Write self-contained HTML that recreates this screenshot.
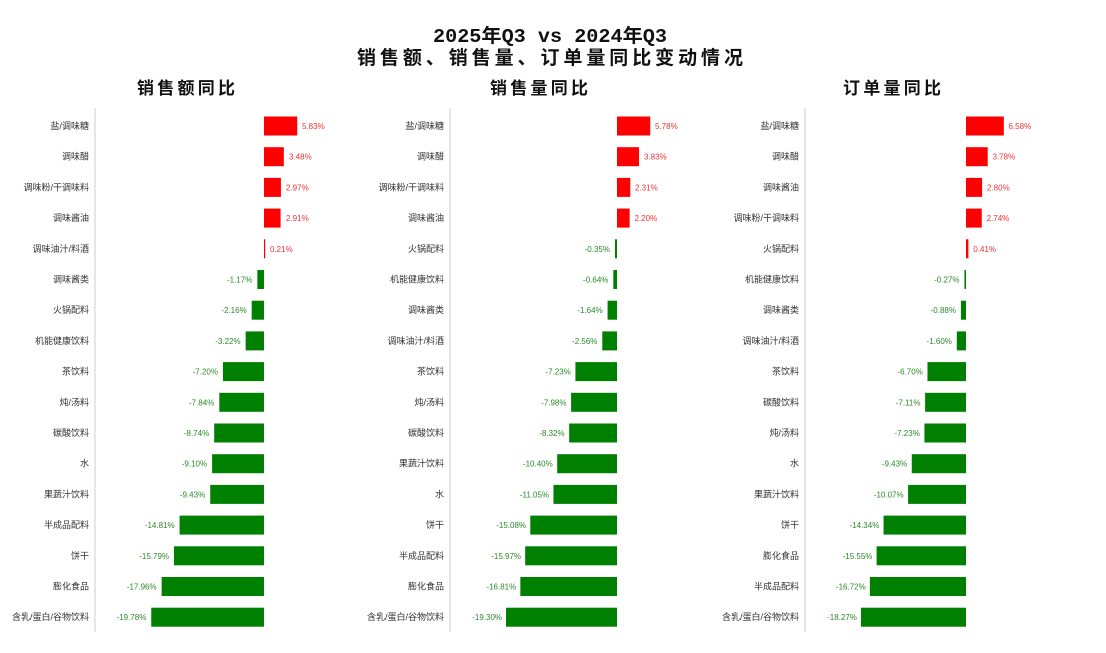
<!DOCTYPE html>
<html><head><meta charset="utf-8"><style>
body{margin:0;background:#fff;}
svg{display:block;font-family:"Liberation Sans","Noto Sans CJK SC",sans-serif;}
.t{font-family:"Liberation Mono","Noto Sans CJK SC",monospace;font-weight:bold;fill:#111;}
.l{font-size:9px;fill:#333;text-anchor:end;}
.p{font-size:8px;fill:#e33;}
.n{font-size:8px;fill:#2a8a2a;text-anchor:end;}
.r{fill:#ff0000;}
.g{fill:#008000;}
</style></head><body>
<svg width="1106" height="653" viewBox="0 0 1106 653">
<text class="t" x="433" y="42" font-size="19" textLength="234" lengthAdjust="spacingAndGlyphs">2025年Q3 vs 2024年Q3</text>
<text class="t" x="357" y="64" font-size="19" textLength="386" lengthAdjust="spacing">销售额、销售量、订单量同比变动情况</text>
<text class="t" x="137" y="94" font-size="17" textLength="98" lengthAdjust="spacing">销售额同比</text>
<text class="t" x="490" y="94" font-size="17" textLength="98" lengthAdjust="spacing">销售量同比</text>
<text class="t" x="843" y="94" font-size="17" textLength="98" lengthAdjust="spacing">订单量同比</text>
<line x1="95" y1="108" x2="95" y2="632" stroke="#ccc"/>
<line x1="450" y1="108" x2="450" y2="632" stroke="#ccc"/>
<line x1="805" y1="108" x2="805" y2="632" stroke="#ccc"/>

<g class="l">
<text x="89" y="129">盐/调味糖</text><text x="89" y="159.7">调味醋</text><text x="89" y="190.4">调味粉/干调味料</text><text x="89" y="221.1">调味酱油</text><text x="89" y="251.8">调味油汁/料酒</text><text x="89" y="282.5">调味酱类</text><text x="89" y="313.2">火锅配料</text><text x="89" y="343.9">机能健康饮料</text><text x="89" y="374.6">茶饮料</text><text x="89" y="405.3">炖/汤料</text><text x="89" y="436">碳酸饮料</text><text x="89" y="466.7">水</text><text x="89" y="497.4">果蔬汁饮料</text><text x="89" y="528.1">半成品配料</text><text x="89" y="558.8">饼干</text><text x="89" y="589.5">膨化食品</text><text x="89" y="620.2">含乳/蛋白/谷物饮料</text>
</g>
<g transform="translate(264,0) scale(5.7,1)">
<rect class="r" x="0" y="116.5" width="5.83" height="19"/><rect class="r" x="0" y="147.2" width="3.48" height="19"/><rect class="r" x="0" y="177.9" width="2.97" height="19"/><rect class="r" x="0" y="208.6" width="2.91" height="19"/><rect class="r" x="0" y="239.3" width="0.21" height="19"/>
<rect class="g" x="-1.17" y="270" width="1.17" height="19"/><rect class="g" x="-2.16" y="300.7" width="2.16" height="19"/><rect class="g" x="-3.22" y="331.4" width="3.22" height="19"/><rect class="g" x="-7.20" y="362.1" width="7.20" height="19"/><rect class="g" x="-7.84" y="392.8" width="7.84" height="19"/><rect class="g" x="-8.74" y="423.5" width="8.74" height="19"/><rect class="g" x="-9.10" y="454.2" width="9.10" height="19"/><rect class="g" x="-9.43" y="484.9" width="9.43" height="19"/><rect class="g" x="-14.81" y="515.6" width="14.81" height="19"/><rect class="g" x="-15.79" y="546.3" width="15.79" height="19"/><rect class="g" x="-17.96" y="577" width="17.96" height="19"/><rect class="g" x="-19.78" y="607.7" width="19.78" height="19"/>
</g>
<g transform="translate(264,0)">
<text class="p" x="38" y="129">5.83%</text><text class="p" x="25" y="159.7">3.48%</text><text class="p" x="22" y="190.4">2.97%</text><text class="p" x="22" y="221.1">2.91%</text><text class="p" x="6" y="251.8">0.21%</text>
<text class="n" x="-11.7" y="282.5">-1.17%</text><text class="n" x="-17.3" y="313.2">-2.16%</text><text class="n" x="-23.4" y="343.9">-3.22%</text><text class="n" x="-46" y="374.6">-7.20%</text><text class="n" x="-49.7" y="405.3">-7.84%</text><text class="n" x="-54.8" y="436">-8.74%</text><text class="n" x="-56.9" y="466.7">-9.10%</text><text class="n" x="-58.8" y="497.4">-9.43%</text><text class="n" x="-89.4" y="528.1">-14.81%</text><text class="n" x="-95" y="558.8">-15.79%</text><text class="n" x="-107.4" y="589.5">-17.96%</text><text class="n" x="-117.7" y="620.2">-19.78%</text>
</g>

<g class="l">
<text x="444" y="129">盐/调味糖</text><text x="444" y="159.7">调味醋</text><text x="444" y="190.4">调味粉/干调味料</text><text x="444" y="221.1">调味酱油</text><text x="444" y="251.8">火锅配料</text><text x="444" y="282.5">机能健康饮料</text><text x="444" y="313.2">调味酱类</text><text x="444" y="343.9">调味油汁/料酒</text><text x="444" y="374.6">茶饮料</text><text x="444" y="405.3">炖/汤料</text><text x="444" y="436">碳酸饮料</text><text x="444" y="466.7">果蔬汁饮料</text><text x="444" y="497.4">水</text><text x="444" y="528.1">饼干</text><text x="444" y="558.8">半成品配料</text><text x="444" y="589.5">膨化食品</text><text x="444" y="620.2">含乳/蛋白/谷物饮料</text>
</g>
<g transform="translate(617,0) scale(5.75,1)">
<rect class="r" x="0" y="116.5" width="5.78" height="19"/><rect class="r" x="0" y="147.2" width="3.83" height="19"/><rect class="r" x="0" y="177.9" width="2.31" height="19"/><rect class="r" x="0" y="208.6" width="2.20" height="19"/>
<rect class="g" x="-0.35" y="239.3" width="0.35" height="19"/><rect class="g" x="-0.64" y="270" width="0.64" height="19"/><rect class="g" x="-1.64" y="300.7" width="1.64" height="19"/><rect class="g" x="-2.56" y="331.4" width="2.56" height="19"/><rect class="g" x="-7.23" y="362.1" width="7.23" height="19"/><rect class="g" x="-7.98" y="392.8" width="7.98" height="19"/><rect class="g" x="-8.32" y="423.5" width="8.32" height="19"/><rect class="g" x="-10.40" y="454.2" width="10.40" height="19"/><rect class="g" x="-11.05" y="484.9" width="11.05" height="19"/><rect class="g" x="-15.08" y="515.6" width="15.08" height="19"/><rect class="g" x="-15.97" y="546.3" width="15.97" height="19"/><rect class="g" x="-16.81" y="577" width="16.81" height="19"/><rect class="g" x="-19.30" y="607.7" width="19.30" height="19"/>
</g>
<g transform="translate(617,0)">
<text class="p" x="38" y="129">5.78%</text><text class="p" x="27" y="159.7">3.83%</text><text class="p" x="18" y="190.4">2.31%</text><text class="p" x="17.5" y="221.1">2.20%</text>
<text class="n" x="-7" y="251.8">-0.35%</text><text class="n" x="-8.6" y="282.5">-0.64%</text><text class="n" x="-14.3" y="313.2">-1.64%</text><text class="n" x="-19.6" y="343.9">-2.56%</text><text class="n" x="-46.2" y="374.6">-7.23%</text><text class="n" x="-50.5" y="405.3">-7.98%</text><text class="n" x="-52.4" y="436">-8.32%</text><text class="n" x="-64.3" y="466.7">-10.40%</text><text class="n" x="-68" y="497.4">-11.05%</text><text class="n" x="-91" y="528.1">-15.08%</text><text class="n" x="-96" y="558.8">-15.97%</text><text class="n" x="-100.8" y="589.5">-16.81%</text><text class="n" x="-115" y="620.2">-19.30%</text>
</g>

<g class="l">
<text x="799" y="129">盐/调味糖</text><text x="799" y="159.7">调味醋</text><text x="799" y="190.4">调味酱油</text><text x="799" y="221.1">调味粉/干调味料</text><text x="799" y="251.8">火锅配料</text><text x="799" y="282.5">机能健康饮料</text><text x="799" y="313.2">调味酱类</text><text x="799" y="343.9">调味油汁/料酒</text><text x="799" y="374.6">茶饮料</text><text x="799" y="405.3">碳酸饮料</text><text x="799" y="436">炖/汤料</text><text x="799" y="466.7">水</text><text x="799" y="497.4">果蔬汁饮料</text><text x="799" y="528.1">饼干</text><text x="799" y="558.8">膨化食品</text><text x="799" y="589.5">半成品配料</text><text x="799" y="620.2">含乳/蛋白/谷物饮料</text>
</g>
<g transform="translate(966,0) scale(5.75,1)">
<rect class="r" x="0" y="116.5" width="6.58" height="19"/><rect class="r" x="0" y="147.2" width="3.78" height="19"/><rect class="r" x="0" y="177.9" width="2.80" height="19"/><rect class="r" x="0" y="208.6" width="2.74" height="19"/><rect class="r" x="0" y="239.3" width="0.41" height="19"/>
<rect class="g" x="-0.27" y="270" width="0.27" height="19"/><rect class="g" x="-0.88" y="300.7" width="0.88" height="19"/><rect class="g" x="-1.60" y="331.4" width="1.60" height="19"/><rect class="g" x="-6.70" y="362.1" width="6.70" height="19"/><rect class="g" x="-7.11" y="392.8" width="7.11" height="19"/><rect class="g" x="-7.23" y="423.5" width="7.23" height="19"/><rect class="g" x="-9.43" y="454.2" width="9.43" height="19"/><rect class="g" x="-10.07" y="484.9" width="10.07" height="19"/><rect class="g" x="-14.34" y="515.6" width="14.34" height="19"/><rect class="g" x="-15.55" y="546.3" width="15.55" height="19"/><rect class="g" x="-16.72" y="577" width="16.72" height="19"/><rect class="g" x="-18.27" y="607.7" width="18.27" height="19"/>
</g>
<g transform="translate(966,0)">
<text class="p" x="42.5" y="129">6.58%</text><text class="p" x="26.5" y="159.7">3.78%</text><text class="p" x="21" y="190.4">2.80%</text><text class="p" x="20.6" y="221.1">2.74%</text><text class="p" x="7.3" y="251.8">0.41%</text>
<text class="n" x="-6.5" y="282.5">-0.27%</text><text class="n" x="-10" y="313.2">-0.88%</text><text class="n" x="-14.1" y="343.9">-1.60%</text><text class="n" x="-43.2" y="374.6">-6.70%</text><text class="n" x="-45.5" y="405.3">-7.11%</text><text class="n" x="-46.2" y="436">-7.23%</text><text class="n" x="-58.8" y="466.7">-9.43%</text><text class="n" x="-62.4" y="497.4">-10.07%</text><text class="n" x="-86.7" y="528.1">-14.34%</text><text class="n" x="-93.6" y="558.8">-15.55%</text><text class="n" x="-100.3" y="589.5">-16.72%</text><text class="n" x="-109.1" y="620.2">-18.27%</text>
</g>
</svg>
</body></html>
